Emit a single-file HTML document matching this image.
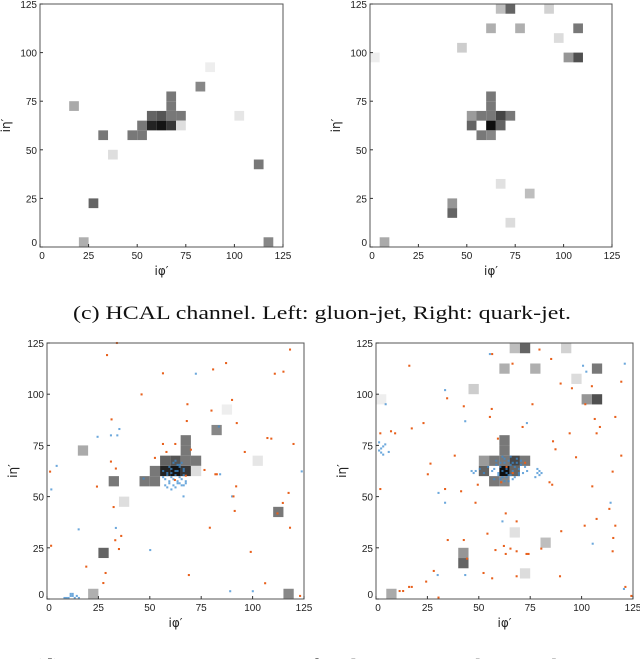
<!DOCTYPE html>
<html><head><meta charset="utf-8">
<style>
html,body{margin:0;padding:0;background:#fff;width:640px;height:659px;overflow:hidden}
svg{display:block}
.tk{font-family:"Liberation Sans","DejaVu Sans",sans-serif;font-size:10px;fill:#222}
.al{font-family:"DejaVu Sans","Liberation Sans",sans-serif;font-size:12px;fill:#222}
.cap{font-family:"Liberation Serif",serif;font-size:19px;fill:#111}
</style></head>
<body>
<svg id="fig" width="640" height="659" viewBox="0 0 640 659">
<text class="cap" x="322" y="319" text-anchor="middle" textLength="498" lengthAdjust="spacingAndGlyphs">(c) HCAL channel. Left: gluon-jet, Right: quark-jet.</text>
<text class="cap" x="318" y="672" text-anchor="middle" textLength="570" lengthAdjust="spacingAndGlyphs">(d) Composite jet image. Left: gluon-jet, Right: quark-jet.</text>
</svg>
<script>
// HCAL cells: [iphi, ieta, gray]
const gluonCellsX=[15,30,35,25,20,45,50,50,55,60,65,55,60,65,70,65,65,70,80,85,100,110,115];
const gluonCellsY=[70,55,45,20,0,55,55,60,60,60,60,65,65,65,65,70,75,60,80,90,65,40,0];
const gluonCellsG=[170,120,222,100,175,120,120,120,35,20,55,100,85,120,120,120,120,222,135,238,230,120,135];
const quarkCellsX=[65,70,90,60,75,105,95,45,0,100,105,60,60,50,55,60,65,70,50,60,65,55,60,65,80,40,40,70,5];
const quarkCellsY=[120,120,120,110,110,110,105,100,95,95,95,75,70,65,65,65,65,65,60,60,60,55,55,30,25,20,15,10,0];
const quarkCellsG=[190,100,210,175,175,120,220,205,238,150,80,120,120,155,120,120,70,120,100,15,100,120,135,225,190,150,100,220,170];
// ECAL (orange) hits
const gluonEcalX=[1,1.5,28.7,33.5,55.9,45.5,30.9,67.8,67.5,80.3,86.6,79.5,89.5,91.8,117.7,110.3,114.5,119.4,106.7,108.6,95.7,55.9,61.9,57.6,69.5,52,30.6,33,76.1,81.4,82.1,23.8,91.5,90.2,90.8,117,114.2,111.6,31.9,78.7,117.7,35.6,32.7,34.5,98.6,18.6,28,68.5,26.9,105.6,122.6,61.7,67];
const gluonEcalY=[61.7,25.5,118.6,124.5,109.7,99.4,87.2,94.6,86.4,111.6,114.7,91.5,96.7,85.4,121.3,109.5,110.5,75.2,78.1,77.8,71.3,75.2,75.2,71.3,72.4,68.4,66.6,63.2,62.5,60.4,60.4,54.4,54.5,49.6,42.5,51.3,46.4,41.3,44.4,34.3,34.3,30.3,28.2,23.9,22.5,15.3,12.2,11.2,7.3,7.2,1,57.6,59.7];
const quarkEcalX=[56,65.9,79,84.7,15.7,34.1,42.2,55.8,54.9,75.6,89.3,94.8,104.5,118.8,101.3,115.9,22.6,16.9,1.6,6.8,8.8,70.8,93.7,105.9,106.8,108.4,85.6,86.8,58.8,37.8,96.8,118.8,26,24.7,114.6,49,83.9,85.2,104.7,1.6,33.1,40.9,47.9,113,62.6,67.9,106.8,115.9,101,89.6,53.7,61.7,64.9,67.9,62.6,72.7,73.7,57.6,79.9,114.9,114.6,43.8,34.4,42.2,27.6,23.9,51.8,56,67.9,89,15.6,16.9,11,12.7,29.9,123.7,120.8,60.4,63,66,72];
const quarkEcalY=[119.1,114.4,121.3,116.7,113.4,97.5,93.6,92.3,88.4,94.6,104.7,102.4,103.4,105.6,94.6,88.4,85.4,82.8,80.4,81.4,80.4,83.5,80.4,87.4,80.4,83.5,76.5,72.6,77.8,69.5,68.7,69.5,65.6,60.4,61.7,55.3,56.5,55.3,54.5,53.2,53.2,52.1,46.5,43.5,41.3,37.4,38.6,35.3,35.3,32.6,31.4,25.4,24.1,22.8,21.5,21.5,21.5,23.4,24.1,29.3,22.8,19.2,28.3,28.3,13.2,8,12.2,9.6,10.6,10.6,5.4,5.4,3.4,3.4,0.2,1,5.4,56.5,64,61,66];
// Track (blue) hits
const gluonTrkX=[1.6,4.2,24.1,30.6,33.7,34.7,71.9,83.1,83.7,46.5,65.9,89.5,14.9,33,49.7,88.6,99.6,123.4,8,9,10,11,12,13,14,11,12,15,56,57,58,59,60,61,62,63,64,65,66,67,56,58,60,62,64,66,57,59,61,63,65,67,58,60,62,64,66,59,61,63,65,62,64,60,63,66];
const gluonTrkY=[53,64.5,78.7,79.4,79.4,82.5,109.5,83.7,60.4,58.3,49.6,49.6,33.5,34.2,23.4,3.3,3.3,61.8,0,0,0,1,1,0,1,2,2,0,59,58,60,57,59,58,60,57,59,58,60,56,62,61,63,62,64,62,55,56,55,56,55,57,54,53,54,56,55,64,66,65,66,67,65,61,62,63];
const quarkTrkX=[54.9,33.1,4.2,42.9,72.9,100.2,101.8,29.9,33.1,29.5,42.9,61,104.9,113.6,120.1,120.5,5.7,1,2,3,4,2,3,1,46,47,48,50,52,54,56,57,58,59,60,61,62,63,64,65,66,67,68,69,70,71,72,73,58,60,62,64,66,68,70,59,61,63,65,67,69,57,60,63,66,69,62,64,61,65,77,78,79,78,79,80];
const quarkTrkY=[119.1,101.5,94.6,86.3,85.4,113.4,110.5,51.3,46.5,11.2,11.2,37.4,26.5,46.5,4.4,114.4,71.3,72,73,74,75,71,70,76,62,61,62,63,61,64,62,63,65,61,64,62,66,63,60,65,62,64,66,63,65,61,64,62,67,66,68,67,66,68,67,60,59,61,60,59,60,58,58,59,58,61,57,57,69,69,59,61,62,63,60,61];

const NS='http://www.w3.org/2000/svg';
const fig=document.getElementById('fig');
function mk(tag,attrs,parent){const e=document.createElementNS(NS,tag);for(const k in attrs)e.setAttribute(k,attrs[k]);(parent||fig).appendChild(e);return e;}

function panel(name,x0,y0,x1,y1,cx,cy,cg,ex,ey,tx,ty){
  const g=mk('g',{});
  
  
  const sx=v=>x0+(x1-x0)*v/125;
  const sy=v=>y1-(y1-y0)*v/125;
  for(let i=0;i<cx.length;i++){
    const c=cg[i];
    const r=mk('rect',{x:sx(cx[i]),y:sy(cy[i]+5),width:sx(cx[i]+5)-sx(cx[i]),height:sy(cy[i])-sy(cy[i]+5),fill:`rgb(${c},${c},${c})`},g);
    
    
  }
  if(ex){
    for(let i=0;i<tx.length;i++){
      const r=mk('rect',{x:sx(tx[i]),y:sy(ty[i]+1),width:sx(1)-sx(0),height:sy(0)-sy(1),fill:'#3b8bd0','fill-opacity':0.75},g);
      
      
    }
    for(let i=0;i<ex.length;i++){
      const r=mk('rect',{x:sx(ex[i]),y:sy(ey[i]+1),width:sx(1)-sx(0),height:sy(0)-sy(1),fill:'#e8601c'},g);
      
      
    }
  }
  const fr=mk('rect',{x:x0,y:y0,width:x1-x0,height:y1-y0,fill:'none',stroke:'#555','stroke-width':1},g);
  
  
  const ticks=[0,25,50,75,100,125];
  for(const t of ticks){
    mk('line',{x1:sx(t),x2:sx(t),y1:y1,y2:y1-3,stroke:'#333'},g);
    mk('line',{x1:x0,x2:x0+3,y1:sy(t),y2:sy(t),stroke:'#333'},g);
    const xt=mk('text',{class:'tk',x:sx(t)+(t==0?2:0),y:y1+12,'text-anchor':'middle'},g);
    xt.textContent=t;
    
    
    const yt=mk('text',{class:'tk',x:x0-3,y:sy(t)+(t==0?-1:4),'text-anchor':'end'},g);
    yt.textContent=t;
    
    
  }
  const xl=mk('text',{class:'al',x:(x0+x1)/2,y:y1+28,'text-anchor':'middle'},g);
  xl.textContent='iφ′';
  
  
  const yx=x0-30, yy=(y0+y1)/2;
  const yl=mk('text',{class:'al',x:yx,y:yy,'text-anchor':'middle',transform:`rotate(-90 ${yx} ${yy})`},g);
  yl.textContent='iη′';
  
  
}
panel('hcal-gluon-panel',40,4,283,247,gluonCellsX,gluonCellsY,gluonCellsG);
panel('hcal-quark-panel',370,4,612,247,quarkCellsX,quarkCellsY,quarkCellsG);
panel('composite-gluon-panel',47,343,304,599,gluonCellsX,gluonCellsY,gluonCellsG,gluonEcalX,gluonEcalY,gluonTrkX,gluonTrkY);
panel('composite-quark-panel',376,343,633,599,quarkCellsX,quarkCellsY,quarkCellsG,quarkEcalX,quarkEcalY,quarkTrkX,quarkTrkY);
</script>
</body></html>
